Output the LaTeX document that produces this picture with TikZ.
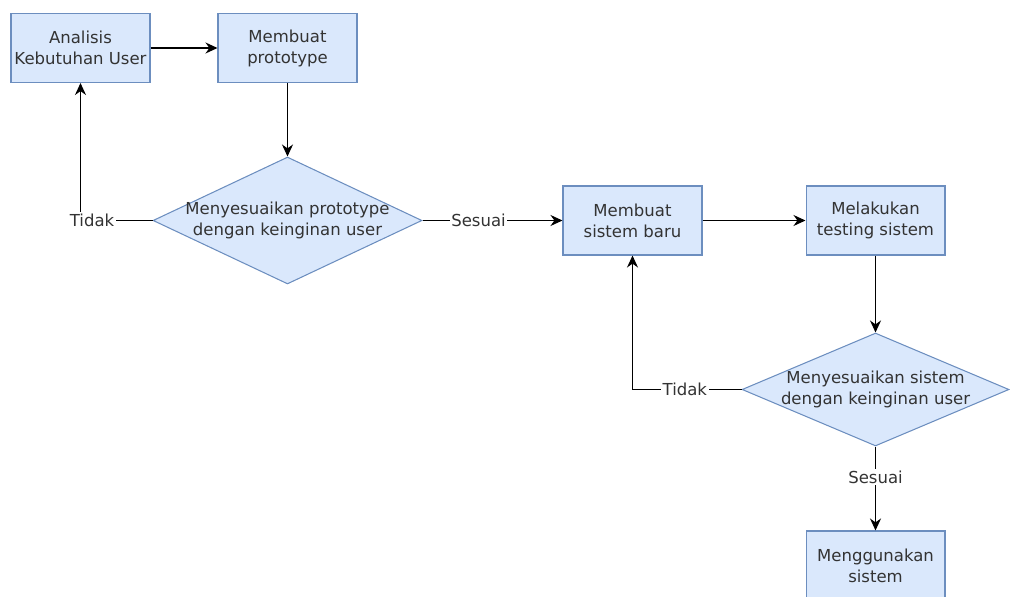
\documentclass[tikz,border=0pt]{standalone}
\usepackage{fontspec}
\setmainfont{DejaVu Sans}
\usetikzlibrary{shapes.geometric,arrows.meta}
\definecolor{boxfill}{HTML}{DAE8FC}
\definecolor{boxline}{HTML}{6C8EBF}
\definecolor{txt}{HTML}{333333}

\begin{document}
\begin{tikzpicture}[x=0.02cm,y=-0.02cm,font=\fontsize{9.4}{11.9}\selectfont]
\tikzstyle{kotak}=[draw=boxline, fill=boxfill, line width=0.6pt, text=txt, align=center, minimum width=2.78cm, minimum height=1.38cm, inner sep=0pt]
\tikzstyle{cek}=[diamond, draw=boxline, fill=boxfill, line width=0.6pt, text=txt, align=center, inner xsep=-35pt, inner ysep=-20pt]
\tikzstyle{arr}=[-{Stealth[length=2.4mm,width=2.2mm]}, line width=0.8pt]
\tikzstyle{lbl}=[fill=white, text=txt, inner sep=1pt]
\useasboundingbox (0,0) rectangle (1010,597);
% kotak proses
\node[kotak] (analisis) at (80.5,48) {Analisis\\Kebutuhan User};
\node[kotak] (prototype) at (287.5,48) {Membuat\\prototype};
\node[kotak] (sistem) at (632.5,220.5) {Membuat\\sistem baru};
\node[kotak] (testing) at (875.5,220.5) {Melakukan\\testing sistem};
\node[kotak] (pakai) at (875.5,565.5) {Menggunakan\\sistem};
% keputusan
\node[cek, minimum width=5.38cm, minimum height=2.54cm] (cekproto) at (287.5,220.5) {Menyesuaikan prototype\\dengan keinginan user};
\node[cek, minimum width=5.34cm, minimum height=2.26cm] (ceksistem) at (875.5,389.5) {Menyesuaikan sistem\\dengan keinginan user};
% alur
\draw[arr] (analisis) -- (prototype);
\draw[arr] (prototype) -- (cekproto);
\draw[arr] (cekproto.west) -| node[lbl, pos=0.42] {Tidak} (analisis.south);
\draw[arr] (cekproto.east) -- node[lbl, pos=0.4] {Sesuai} (sistem.west);
\draw[arr] (sistem) -- (testing);
\draw[arr] (testing) -- (ceksistem);
\draw[arr] (ceksistem.west) -| node[lbl, pos=0.26] {Tidak} (sistem.south);
\draw[arr] (ceksistem.south) -- node[lbl, pos=0.365] {Sesuai} (pakai.north);
\end{tikzpicture}
\end{document}
